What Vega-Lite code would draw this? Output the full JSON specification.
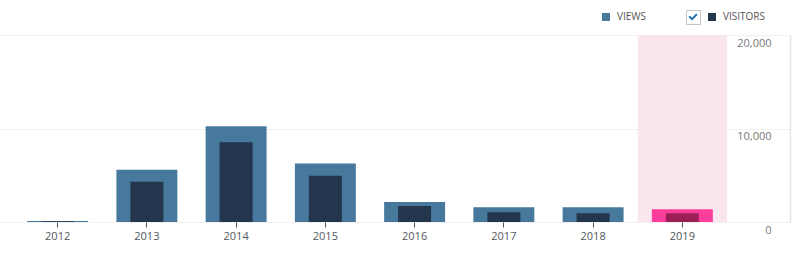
{
  "$schema": "https://vega.github.io/schema/vega-lite/v6.json",
  "width": 790,
  "height": 187,
  "autosize": {"type": "none"},
  "padding": {"left": 0, "top": 35, "right": 10, "bottom": 33},
  "background": "white",
  "config": {
    "view": {"stroke": null},
    "font": "Open Sans",
    "axis": {"labelFont": "Open Sans", "labelFontSize": 11, "title": null},
    "axisY": {"grid": true, "gridColor": "#f0f0f0", "gridWidth": 1, "ticks": false, "domain": true, "domainColor": "#e6e6e6", "domainWidth": 1.5, "labelAlign": "right", "labelPadding": -19, "labelBaseline": "top", "labelOffset": 2, "labelColor": "#7b7b7b"},
    "axisX": {"grid": false, "domain": false, "ticks": true, "tickColor": "#555555", "tickSize": 5, "labelColor": "#50575e", "labelPadding": 3, "labelAngle": 0}
  },
  "data": {"values": [
    {"year": "2012", "views": 120, "visitors": 90},
    {"year": "2013", "views": 5600, "visitors": 4300},
    {"year": "2014", "views": 10250, "visitors": 8520},
    {"year": "2015", "views": 6245, "visitors": 4950},
    {"year": "2016", "views": 2130, "visitors": 1700},
    {"year": "2017", "views": 1590, "visitors": 1050},
    {"year": "2018", "views": 1590, "visitors": 940},
    {"year": "2019", "views": 1370, "visitors": 940}
  ]},
  "encoding": {
    "x": {"field": "year", "type": "ordinal", "title": null, "scale": {"paddingInner": 0, "paddingOuter": 0.426, "align": 0.171}, "axis": {"orient": "bottom"}}
  },
  "layer": [
    {
      "transform": [{"filter": "datum.year == '2019'"}],
      "mark": {"type": "bar", "color": "#f9e6ef", "width": {"band": 1}},
      "encoding": {
        "y": {"datum": 20000, "type": "quantitative", "scale": {"domain": [0, 20000]}, "axis": {"orient": "right", "title": null, "values": [0, 10000, 20000], "format": ",d"}},
        "y2": {"datum": 0}
      }
    },
    {
      "mark": {"type": "bar", "width": {"band": 0.683}},
      "encoding": {
        "y": {"field": "views", "type": "quantitative", "scale": {"domain": [0, 20000]}, "axis": {"orient": "right", "title": null, "values": [0, 10000, 20000], "format": ",d"}},
        "color": {
          "condition": {"test": "datum.year == '2019'", "value": "#ff3d9a"},
          "datum": "VIEWS",
          "type": "nominal",
          "scale": {"domain": ["VIEWS", "VISITORS"], "range": ["#47799c", "#23364e"]},
          "legend": {"orient": "none", "legendX": 601, "legendY": -23, "direction": "horizontal", "title": null, "symbolType": "square", "symbolSize": 64, "symbolStrokeWidth": 0, "labelFont": "Open Sans", "labelFontSize": 10, "labelColor": "#555555", "labelOffset": 6, "columnPadding": 60, "padding": 0}
        }
      }
    },
    {
      "mark": {"type": "bar", "width": {"band": 0.37}},
      "encoding": {
        "y": {"field": "visitors", "type": "quantitative", "scale": {"domain": [0, 20000]}, "axis": {"orient": "right", "title": null, "values": [0, 10000, 20000], "format": ",d"}},
        "color": {
          "condition": {"test": "datum.year == '2019'", "value": "#9b1f55"},
          "datum": "VISITORS",
          "type": "nominal"
        }
      }
    },
    {
      "mark": {"type": "point", "filled": false, "size": 0, "opacity": 0},
      "encoding": {
        "x": {"datum": "2012", "type": "ordinal"},
        "y": {"datum": 0, "type": "quantitative"},
        "shape": {"datum": "box", "type": "nominal", "scale": {"range": ["M-1,-1H1V1H-1Z"]},
          "legend": {"orient": "none", "legendX": 686, "legendY": -25, "title": null, "symbolSize": 196, "symbolStrokeWidth": 1, "symbolStrokeColor": "#c3c4c7", "symbolFillColor": "transparent", "symbolOpacity": 1, "labelExpr": "''", "labelOffset": 0, "padding": 0}}
      }
    },
    {
      "mark": {"type": "point", "filled": true, "size": 0, "opacity": 0},
      "encoding": {
        "x": {"datum": "2012", "type": "ordinal"},
        "y": {"datum": 0, "type": "quantitative"},
        "fill": {"datum": "check", "type": "nominal", "scale": {"range": ["#2271b1"]},
          "legend": {"orient": "none", "legendX": 686, "legendY": -25, "title": null, "symbolType": "M-0.65,0L-0.45,-0.2L-0.15,0.1L0.45,-0.5L0.65,-0.3L-0.15,0.5Z", "symbolSize": 196, "symbolStrokeWidth": 0, "symbolOpacity": 1, "labelExpr": "''", "labelOffset": 0, "padding": 0}}
      }
    }
  ]
}
